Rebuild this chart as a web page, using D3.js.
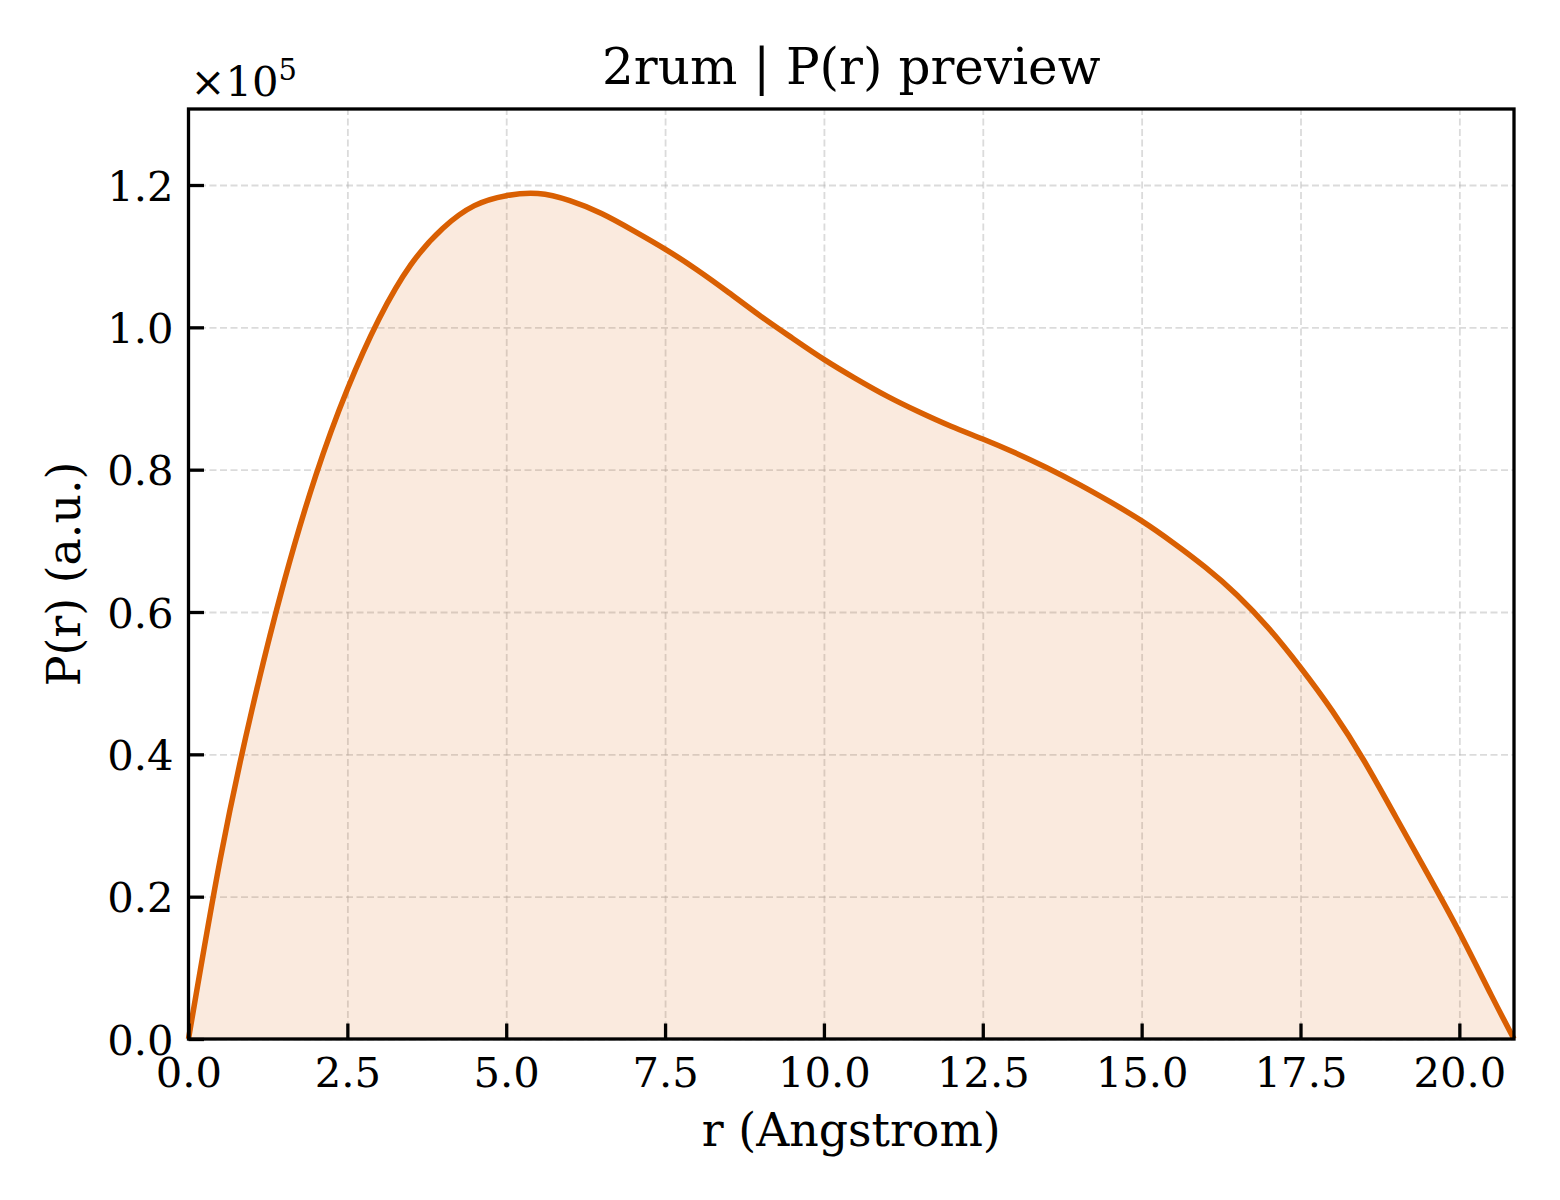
<!DOCTYPE html>
<html>
<head>
<meta charset="utf-8">
<script src="https://cdn.jsdelivr.net/npm/d3@7"></script>
<style>
  body { margin: 0; background: #fff; }
  svg text { font-family: "DejaVu Serif", serif; fill: #000; }
</style>
</head>
<body>
<div id="chart"></div>
<script>
var rValues = [0, 0.5, 1.0, 1.5, 2.0, 2.5, 3.0, 3.5, 4.0, 4.5, 5.0, 5.5, 6.0, 6.5, 7.0,
  7.5, 8.0, 8.5, 9.0, 9.5, 10.0, 10.5, 11.0, 11.5, 12.0, 12.5, 13.0, 13.5, 14.0, 14.5,
  15.0, 15.5, 16.0, 16.5, 17.0, 17.5, 18.0, 18.5, 19.0, 19.5, 20.0, 20.5, 20.86];
var prValues = [0, 25300, 46300, 64100, 79100, 91300, 101200, 108800, 113900, 117100,
  118500, 118800, 117800, 116000, 113600, 111000, 108100, 104900, 101600, 98500, 95500,
  92800, 90300, 88100, 86100, 84300, 82400, 80300, 78000, 75500, 72800, 69700, 66300,
  62400, 57700, 52200, 46100, 39100, 31200, 23200, 15000, 6200, 0];

var xTicks = [0, 2.5, 5.0, 7.5, 10.0, 12.5, 15.0, 17.5, 20.0];
var yTicks = [0, 20000, 40000, 60000, 80000, 100000, 120000];

var titleText = "2rum | P(r) preview";
var xLabel = "r (Angstrom)";
var yLabel = "P(r) (a.u.)";

var W = 1560, H = 1200;
var margin = { top: 109, right: 46, bottom: 161, left: 188.5 };
var width = W - margin.left - margin.right,
    height = H - margin.top - margin.bottom;

var lineColor = "#d95f02";

var data = rValues.map(function (r, i) { return { r: r, p: prValues[i] }; });

var svg = d3.select("#chart")
  .append("svg")
  .attr("width", W)
  .attr("height", H)
  .style("background", "#fff");

var g = svg.append("g")
  .attr("transform", "translate(" + margin.left + "," + margin.top + ")");

var x = d3.scaleLinear()
  .domain([0, d3.max(rValues)])
  .range([0, width]);

var y = d3.scaleLinear()
  .domain([0, d3.max(prValues) * 1.1])
  .range([height, 0]);

// gridlines
g.append("g")
  .attr("transform", "translate(0," + height + ")")
  .call(d3.axisBottom(x).tickValues(xTicks).tickSize(-height).tickFormat(""))
  .call(function (s) { s.select(".domain").remove(); })
  .selectAll("line")
  .attr("stroke", "#b0b0b0")
  .attr("stroke-opacity", 0.45)
  .attr("stroke-width", 1.8)
  .attr("stroke-dasharray", "7,3.5");

g.append("g")
  .call(d3.axisLeft(y).tickValues(yTicks).tickSize(-width).tickFormat(""))
  .call(function (s) { s.select(".domain").remove(); })
  .selectAll("line")
  .attr("stroke", "#b0b0b0")
  .attr("stroke-opacity", 0.45)
  .attr("stroke-width", 1.8)
  .attr("stroke-dasharray", "7,3.5");

// filled area + curve
g.append("path")
  .datum(data)
  .attr("fill", lineColor)
  .attr("fill-opacity", 0.13)
  .attr("d", d3.area()
    .curve(d3.curveNatural)
    .x(function (d) { return x(d.r); })
    .y0(y(0))
    .y1(function (d) { return y(d.p); })
  );

g.append("path")
  .datum(data)
  .attr("fill", "none")
  .attr("stroke", lineColor)
  .attr("stroke-width", 5.5)
  .attr("stroke-linejoin", "round")
  .attr("d", d3.line()
    .curve(d3.curveNatural)
    .x(function (d) { return x(d.r); })
    .y(function (d) { return y(d.p); })
  );

// axes, ticks pointing inward
var xAxis = g.append("g")
  .attr("transform", "translate(0," + height + ")")
  .call(d3.axisBottom(x).tickValues(xTicks).tickSize(-15.5).tickPadding(15)
    .tickFormat(d3.format(".1f")));
xAxis.select(".domain").remove();
xAxis.selectAll("line").attr("stroke", "#000").attr("stroke-width", 3.3);
xAxis.selectAll("text")
  .attr("y", 48)
  .attr("dy", null)
  .style("font-size", "41.7px");

var yAxis = g.append("g")
  .call(d3.axisLeft(y).tickValues(yTicks).tickSize(-15.5).tickPadding(15)
    .tickFormat(function (d) { return (d / 1e5).toFixed(1); }));
yAxis.select(".domain").remove();
yAxis.selectAll("line").attr("stroke", "#000").attr("stroke-width", 3.3);
yAxis.selectAll("text")
  .attr("x", -15)
  .attr("dy", "0.36em")
  .style("font-size", "41.7px");

// frame
g.append("rect")
  .attr("width", width)
  .attr("height", height)
  .attr("fill", "none")
  .attr("stroke", "#000")
  .attr("stroke-width", 3.3);

// offset text
var off = g.append("text")
  .attr("x", 2)
  .attr("y", -13)
  .style("font-size", "41.7px");
off.append("tspan").text("\u00d710");
off.append("tspan")
  .attr("dy", -16)
  .style("font-size", "29px")
  .text("5");

// title and axis labels
g.append("text")
  .attr("x", width / 2)
  .attr("y", -25)
  .attr("text-anchor", "middle")
  .style("font-size", "50px")
  .text(titleText);

g.append("text")
  .attr("x", width / 2)
  .attr("y", height + 107)
  .attr("text-anchor", "middle")
  .style("font-size", "45.8px")
  .text(xLabel);

g.append("text")
  .attr("transform", "translate(" + (80 - margin.left) + "," + (height / 2) + ") rotate(-90)")
  .attr("text-anchor", "middle")
  .style("font-size", "45.8px")
  .text(yLabel);
</script>
</body>
</html>
